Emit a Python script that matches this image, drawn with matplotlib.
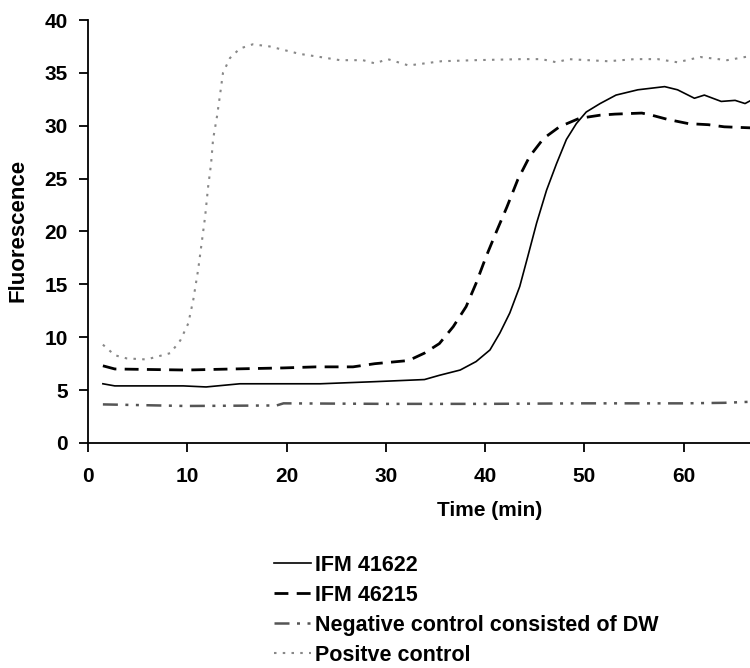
import matplotlib
matplotlib.use("Agg")
import matplotlib.pyplot as plt

FONT = ["Liberation Sans", "DejaVu Sans"]
plt.rcParams["font.family"] = FONT

# IFM 41622 (solid)
t_41622 = [1.5, 2.7, 9.6, 11.9, 15.3, 23.4, 28.9, 33.9, 35.4, 37.5, 39.1, 40.5,
           41.5, 42.5, 43.5, 44.3, 45.2, 46.2, 47.2, 48.2, 49.2, 50.2, 51.6,
           53.2, 55.4, 58.1, 59.4, 61.1, 62.1, 63.8, 65.2, 66.2, 66.8]
f_41622 = [5.6, 5.4, 5.4, 5.3, 5.6, 5.6, 5.8, 6.0, 6.4, 6.9, 7.7, 8.8,
           10.4, 12.3, 14.8, 17.6, 20.8, 23.9, 26.4, 28.7, 30.2, 31.3, 32.1,
           32.9, 33.4, 33.7, 33.4, 32.6, 32.9, 32.3, 32.4, 32.1, 32.4]

# IFM 46215 (dashed)
t_46215 = [1.5, 2.7, 9.9, 14.6, 19.7, 23.0, 26.7, 28.9, 32.3, 33.9, 35.4, 36.8,
           38.1, 39.1, 40.1, 41.2, 42.2, 43.3, 44.5, 45.9, 47.5, 49.5, 51.6,
           53.1, 55.8, 56.8, 58.4, 60.5, 62.5, 64.1, 66.8]
f_46215 = [7.3, 7.0, 6.9, 7.0, 7.1, 7.2, 7.2, 7.5, 7.8, 8.5, 9.4, 11.0,
           12.9, 15.1, 17.6, 20.1, 22.3, 24.9, 27.1, 28.8, 29.9, 30.7, 31.0,
           31.1, 31.2, 31.0, 30.6, 30.2, 30.1, 29.9, 29.8]

# Negative control (dash-dot-dot)
t_neg = [1.5, 9.9, 19.0, 19.7, 30.0, 40.0, 50.0, 60.0, 64.1, 66.8]
f_neg = [3.65, 3.5, 3.55, 3.75, 3.7, 3.7, 3.75, 3.75, 3.8, 3.9]

# Positive control (dotted)
t_pos = [1.5, 2.7, 3.9, 5.9, 8.3, 9.3, 10.1, 10.6, 11.1, 11.45, 11.8, 12.1,
         12.4, 12.6, 13.0, 13.3, 13.6, 14.3, 15.3, 16.6, 18.3, 21.3, 23.4,
         25.4, 27.7, 28.9, 30.2, 32.3, 35.6, 39.0, 43.7, 45.7, 47.2, 48.4,
         52.4, 55.1, 57.4, 59.4, 61.7, 64.4, 66.8]
f_pos = [9.3, 8.3, 8.0, 7.9, 8.5, 9.7, 11.3, 13.5, 16.4, 18.9, 21.4, 24.2,
         26.4, 28.7, 30.9, 32.9, 35.0, 36.4, 37.3, 37.7, 37.5, 36.8, 36.5,
         36.2, 36.2, 35.9, 36.3, 35.7, 36.1, 36.2, 36.3, 36.3, 36.0, 36.3,
         36.1, 36.3, 36.3, 36.0, 36.5, 36.2, 36.6]

labels = ["IFM 41622", "IFM 46215", "Negative control consisted of DW", "Positve control"]
x_ticks = [0, 10, 20, 30, 40, 50, 60]
y_ticks = [0, 5, 10, 15, 20, 25, 30, 35, 40]

fig = plt.figure(figsize=(7.5, 6.68), dpi=100)
ax = fig.add_axes([88 / 750, 1 - 443 / 668, 1 - 88 / 750, 423 / 668])

h1, = ax.plot(t_41622, f_41622, color="black", lw=1.2, ls="-")
h2, = ax.plot(t_46215, f_46215, color="black", lw=2.0, ls=(0, (5, 3)))
h3, = ax.plot(t_neg, f_neg, color="#555555", lw=1.8, ls=(0, (6, 3, 1.2, 3, 1.2, 3)))
h4, = ax.plot(t_pos, f_pos, color="#888888", lw=1.5, ls=(0, (1.2, 3)))

ax.set_xlim(0, 66.7)
ax.set_ylim(0, 40)
ax.set_xticks(x_ticks)
ax.set_yticks(y_ticks)
ax.spines["top"].set_visible(False)
ax.spines["right"].set_visible(False)
for s in ("left", "bottom"):
    ax.spines[s].set_linewidth(1.3)
ax.tick_params(direction="out", length=6.5, width=1.3, labelsize=15)
ax.tick_params(axis="x", pad=11)
ax.tick_params(axis="y", pad=8)
for lab in ax.get_xticklabels() + ax.get_yticklabels():
    lab.set_fontweight("bold")

ax.set_xlabel("Time (min)", fontsize=15, fontweight="bold", va="center")
ax.xaxis.set_label_coords((490 - 88) / 662, -(511 - 443) / 423)
ax.set_ylabel("Fluorescence", fontsize=16, fontweight="bold", va="center")
ax.yaxis.set_label_coords(-(88 - 18.5) / 662, (443 - 230) / 423)

fig.legend([h1, h2, h3, h4], labels, loc="upper left",
           bbox_to_anchor=(265 / 750, 1 - 546 / 668), frameon=False,
           prop={"family": FONT, "weight": "bold", "size": 15.5},
           handlelength=1.72, handletextpad=0.22, labelspacing=0.42,
           borderaxespad=0)

fig.savefig("out.png", dpi=100)
